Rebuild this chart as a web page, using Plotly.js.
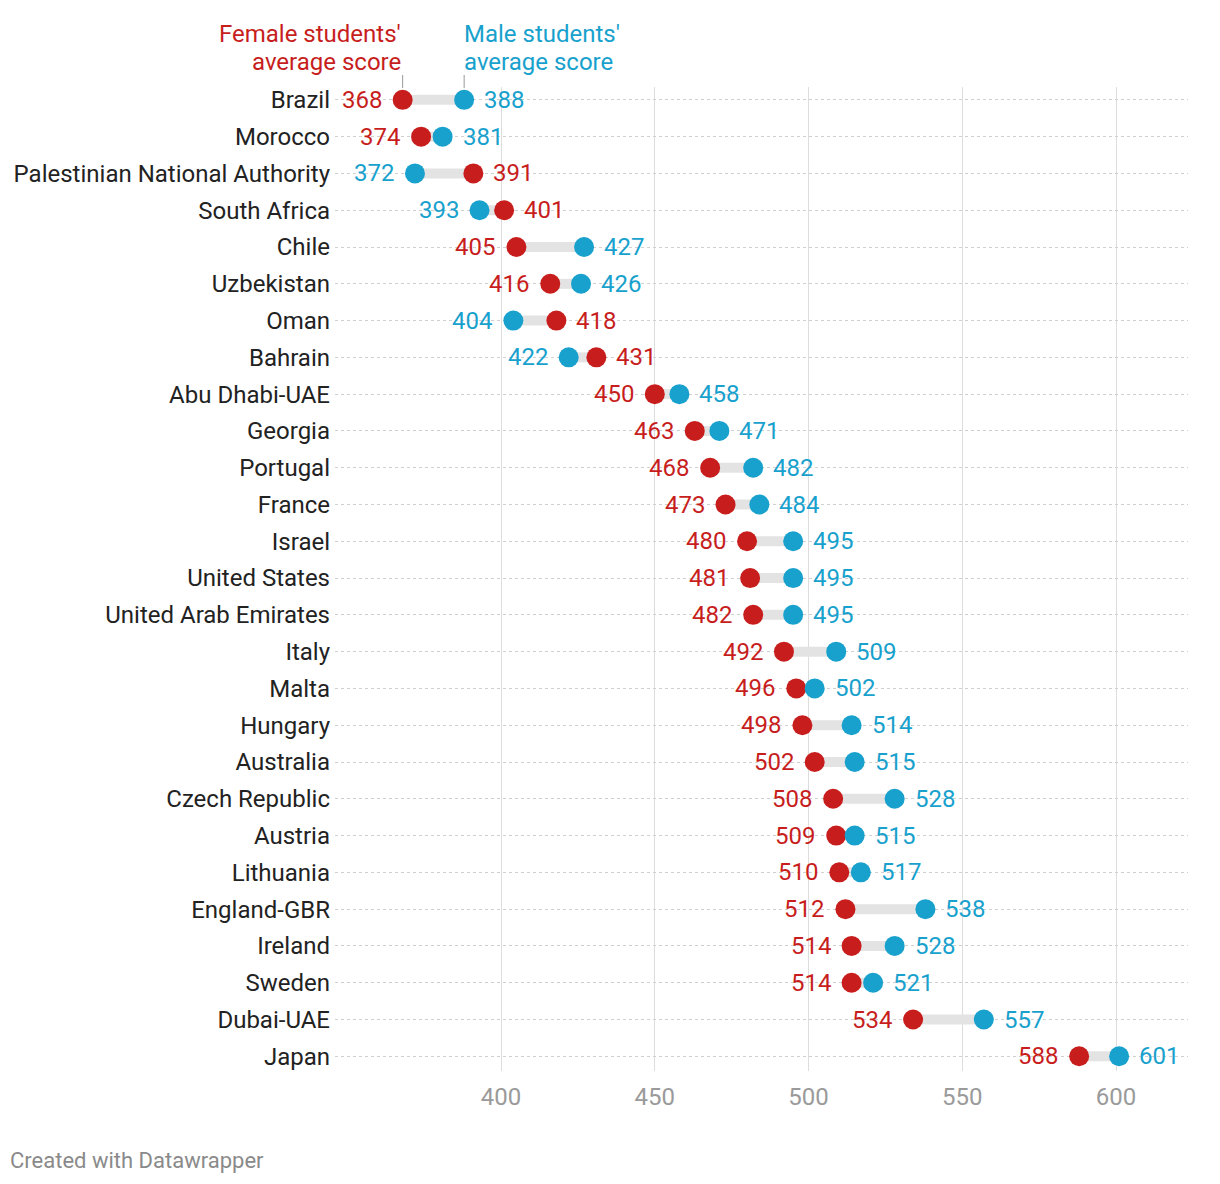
<!DOCTYPE html>
<html>
<head>
<meta charset="utf-8">
<script src="https://cdn.plot.ly/plotly-3.0.1.min.js"></script>
<style>
html,body{margin:0;padding:0;background:#fff;}
#chart{width:1220px;height:1184px;}
</style>
</head>
<body>
<div id="chart"></div>
<script>
const countries = ["Brazil","Morocco","Palestinian National Authority","South Africa","Chile","Uzbekistan","Oman","Bahrain","Abu Dhabi-UAE","Georgia","Portugal","France","Israel","United States","United Arab Emirates","Italy","Malta","Hungary","Australia","Czech Republic","Austria","Lithuania","England-GBR","Ireland","Sweden","Dubai-UAE","Japan"];
const female = [368,374,391,401,405,416,418,431,450,463,468,473,480,481,482,492,496,498,502,508,509,510,512,514,514,534,588];
const male = [388,381,372,393,427,426,404,422,458,471,482,484,495,495,495,509,502,514,515,528,515,517,538,528,521,557,601];
const xTicks = [400,450,500,550,600];
const femaleHeader = ["Female students'", "average score"];
const maleHeader = ["Male students'", "average score"];
const credit = "Created with Datawrapper";

const RED = "#c71e1d", BLUE = "#18a1cd";
const W = 1220, H = 1184;
const M = {l:335, r:32, t:87, b:113};
const pw = W - M.l - M.r, ph = H - M.t - M.b;
const FONT = "Roboto, 'Noto Sans', sans-serif";
const FS = 24;

const lx = [], ly = [];
countries.forEach((c,i)=>{ lx.push(female[i], male[i], null); ly.push(c, c, null); });

const traces = [
  {type:"scatter", mode:"lines", x:lx, y:ly, line:{color:"#e3e3e3", width:10}, hoverinfo:"skip", showlegend:false},
  {type:"scatter", mode:"markers", x:female, y:countries, marker:{color:RED, size:20}, hoverinfo:"x+y", showlegend:false},
  {type:"scatter", mode:"markers", x:male, y:countries, marker:{color:BLUE, size:20}, hoverinfo:"x+y", showlegend:false}
];

const annotations = [];
countries.forEach((c,i)=>{
  const fLeft = female[i] <= male[i];
  annotations.push({x:female[i], y:c, xref:"x", yref:"y", text:String(female[i]), showarrow:false,
    xanchor: fLeft ? "right" : "left", xshift: fLeft ? -19 : 18, yshift:0,
    font:{family:FONT, size:FS, color:RED}});
  annotations.push({x:male[i], y:c, xref:"x", yref:"y", text:String(male[i]), showarrow:false,
    xanchor: fLeft ? "left" : "right", xshift: fLeft ? 18 : -19, yshift:0,
    font:{family:FONT, size:FS, color:BLUE}});
});
// headers
const py = v => (H - M.b - v) / ph; // pixel y -> paper
[34, 62].forEach((yy, k)=>{
  annotations.push({x:female[0], xref:"x", y:py(yy), yref:"paper", yanchor:"middle", xanchor:"right",
    xshift:0, text:femaleHeader[k], showarrow:false, font:{family:FONT, size:FS, color:RED}});
  annotations.push({x:male[0], xref:"x", y:py(yy), yref:"paper", yanchor:"middle", xanchor:"left",
    xshift:-2, text:maleHeader[k], showarrow:false, font:{family:FONT, size:FS, color:BLUE}});
});
annotations.push({x:(8 - M.l)/pw, xref:"paper", y:py(1160), yref:"paper", xanchor:"left", yanchor:"middle",
  text:credit, showarrow:false, font:{family:FONT, size:22, color:"#8a8a8a"}});

const shapes = [
  {type:"line", xref:"x", yref:"paper", x0:female[0], x1:female[0], y0:py(75), y1:py(88), line:{color:"#999", width:1}},
  {type:"line", xref:"x", yref:"paper", x0:male[0], x1:male[0], y0:py(75), y1:py(88), line:{color:"#999", width:1}}
];

const layout = {
  width:W, height:H,
  margin:M,
  paper_bgcolor:"#fff", plot_bgcolor:"#fff",
  font:{family:FONT, size:FS, color:"#222"},
  showlegend:false,
  xaxis:{range:[346, 623.4], tickvals:xTicks, ticktext:xTicks.map(String), showgrid:true, gridcolor:"#dddddd", gridwidth:1,
    zeroline:false, showline:false, ticks:"", ticklabelstandoff:9, tickfont:{family:FONT, size:FS, color:"#9a9a9a"}, fixedrange:true},
  yaxis:{type:"category", categoryorder:"array", categoryarray:countries, range:[26.4, -0.35], showgrid:true,
    griddash:"dot", gridcolor:"#d0d0d0", gridwidth:1, zeroline:false, showline:false, ticks:"", ticklabelstandoff:4,
    tickfont:{family:FONT, size:FS, color:"#222"}, fixedrange:true},
  annotations, shapes
};

Plotly.newPlot("chart", traces, layout, {displayModeBar:false, staticPlot:true});
</script>
</body>
</html>
